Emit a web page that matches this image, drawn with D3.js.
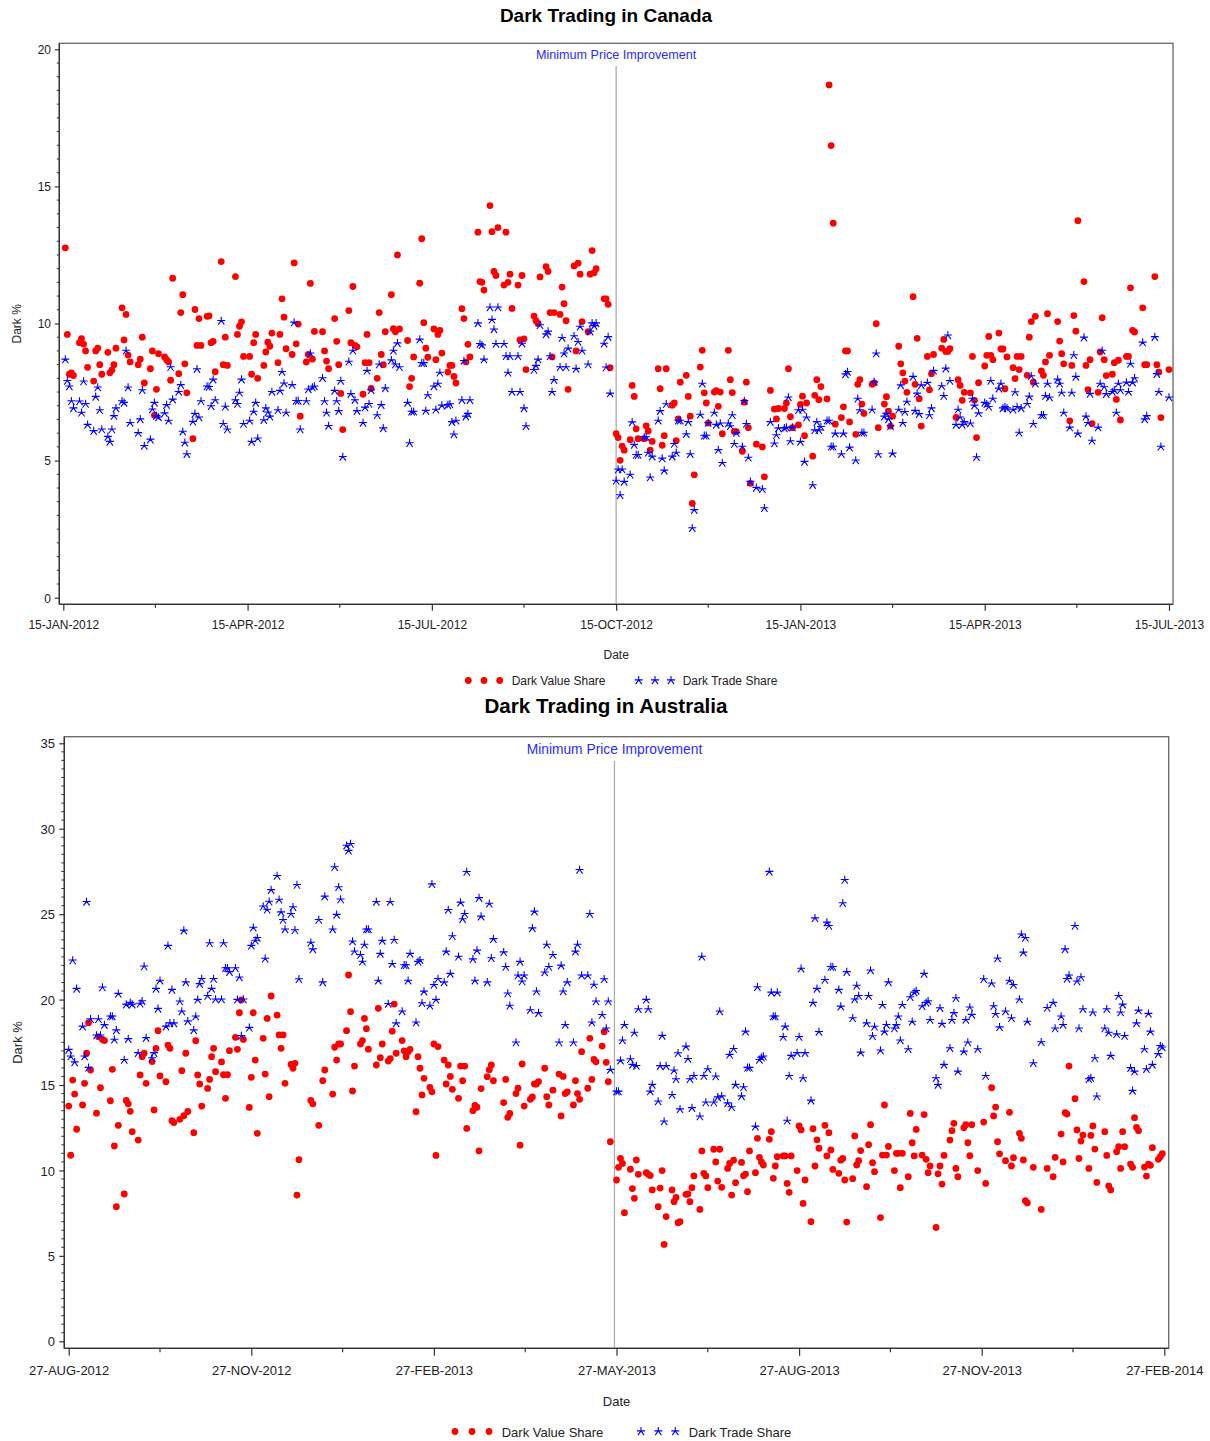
<!DOCTYPE html>
<html>
<head>
<meta charset="utf-8">
<script src="https://cdn.jsdelivr.net/npm/d3@7"></script>
<style>
  html, body { margin: 0; padding: 0; background: #fff; }
  svg { display: block; font-family: "Liberation Sans", Arial, Helvetica, sans-serif; }
</style>
</head>
<body>
<svg id="chart" width="1210" height="1441"></svg>
<script>
// ---------------------------------------------------------------------------
// Data: daily dark shares (%). One row per trading week, Monday..Friday,
// starting on the given Monday. null marks a market holiday / no observation.
// ---------------------------------------------------------------------------
const seriesNames = ["Dark Value Share", "Dark Trade Share"];
const ruleLabel = "Minimum Price Improvement";

const canadaStart = "2012-01-16";
const canadaRuleDate = "2012-10-15";
const canadaXTicks = ["2012-01-15", "2012-04-15", "2012-07-15", "2012-10-15", "2013-01-15", "2013-04-15", "2013-07-15"];
const canadaYTicks = [0, 5, 10, 15, 20];

const canadaValueShare = [
  12.76, 9.6, 8.15, 8.2, 8.1,
  9.3, 9.45, 9.25, 9.0, 8.4,
  7.9, 9.0, 9.1, 8.5, 8.15,
  8.95, 8.2, 8.3, 8.5, 9.1,
  10.57, 9.4, 10.33, 8.85, 8.6,
  null, 8.5, 8.7, 9.5, 7.83,
  8.35, 9.0, 6.65, 7.6, 8.9,
  8.78, 8.68, 8.6, 7.93, 11.65,
  8.17, 10.4, 11.05, 8.53, 7.47,
  5.8, 10.51, 9.2, 10.18, 9.2,
  10.26, 10.28, 9.3, 9.35, 8.24,
  12.26, 8.5, 9.5, 8.47, null,
  11.71, 9.6, 9.9, 10.06, 8.8,
  8.8, 8.15, 9.3, 9.6, 8.0,
  8.47, 8.96, 9.32, 9.17, 9.65,
  8.57, 9.6, 10.9, 10.23, 9.08,
  8.87, 12.21, 9.26, 9.98, 6.62,
  8.6, 8.87, 11.46, 8.7, 9.71,
  null, 9.7, 9.0, 8.63, 8.35,
  10.18, 9.35, 8.5, 7.45, 6.13,
  10.47, 9.3, 11.35, 9.2, 9.15,
  7.42, 8.57, 9.6, 8.57, 7.63,
  8.0, 10.4, 8.87, 8.5, 9.7,
  11.05, 9.81, 9.7, 12.5, 9.8,
  null, 9.38, 7.7, 8.0, 8.78,
  11.47, 13.09, 10.03, 9.1, 8.77,
  9.8, 8.68, 9.6, 9.75, 8.92,
  8.23, 8.47, 8.47, 8.07, 7.83,
  10.54, 10.18, 8.6, 9.24, 8.78,
  null, 13.33, 11.53, 11.5, 11.22,
  14.3, 13.35, 11.9, 11.75, 13.5,
  11.4, 13.33, 11.5, 11.8, 10.55,
  11.4, 9.4, 11.75, 9.44, 8.32,
  null, 10.27, 10.1, 10.0, 11.7,
  12.07, 11.9, 10.4, 8.78, 10.4,
  10.33, 11.33, 10.72, 10.1, 7.6,
  12.1, 9.0, 12.2, 11.8, 10.07,
  9.7, 11.8, 12.66, 11.85, 12.0,
  null, 10.9, 10.9, 10.7, 8.39,
  5.98, 5.84, 5.01, 5.53, 5.38,
  5.76, 7.74, 7.34, 6.16, 5.8,
  5.8, 6.27, 6.08, 5.38, 5.7,
  8.35, 7.62, 5.56, 5.91, 8.35,
  7.02, 7.1, 5.73, 6.52, 7.86,
  8.11, 7.34, 6.62, 3.44, 4.48,
  8.41, 9.02, 7.47, 7.1, 6.37,
  7.5, 7.55, 6.98, 7.5, 5.98,
  9.02, 7.95, 7.48, 6.06, 6.06,
  5.34, 7.13, 7.86, 6.2, 4.17,
  5.6, null, null, 5.5, 4.41,
  7.56, null, 6.88, 6.52, 6.9,
  6.9, 7.1, 8.35, 6.6, 6.2,
  6.3, 7.05, 7.35, 5.91, 7.1,
  5.16, 7.38, 7.95, 7.22, 7.7,
  7.25, 18.7, 16.49, 13.66, 6.33,
  6.57, 6.96, 9.0, 9.0, 6.41,
  5.96, 7.78, 7.95, 7.06, 6.72,
  null, 7.78, 7.83, 9.99, 6.2,
  7.06, 7.33, 6.8, 6.26, 6.62,
  9.17, 8.53, 8.2, 7.9, 7.49,
  10.98, 7.78, 9.46, 7.26, 6.26,
  8.8, 7.58, 8.17, 8.87, null,
  9.1, 9.42, 8.98, 8.98, 9.08,
  6.58, 7.95, 7.74, 7.2, 7.49,
  7.47, 8.8, 7.2, 5.84, 7.84,
  8.45, 8.84, 9.53, 8.84, 8.68,
  9.65, 9.07, 9.07, 7.62, 8.78,
  8.39, 7.99, 8.8, 8.32, 8.8,
  8.11, 9.5, 10.07, 7.86, 10.26,
  8.27, 8.11, 8.6, 10.36, 8.84,
  null, 10.07, 9.36, 8.9, 8.53,
  6.45, 8.47, 10.29, 9.72, 13.75,
  11.53, 8.47, 7.59, 8.68, 6.35,
  7.49, 8.96, 10.21, 8.68, 8.1,
  8.15, 8.57, 7.23, 8.66, 6.48,
  8.8, 8.8, 11.3, 9.75, 9.69,
  null, 10.57, 8.5, 8.5, null,
  11.71, 8.5, 8.23, 6.57, null,
  8.32
];

const canadaTradeShare = [
  8.68, 7.9, 7.7, 7.16, 6.9,
  7.15, 6.74, 7.88, 7.06, 6.3,
  6.07, 7.32, 7.66, 6.83, 6.13,
  5.86, 5.68, 6.13, 6.62, 6.9,
  7.16, 7.1, 9.0, 7.66, 6.37,
  null, 6.0, 6.5, 7.56, 5.53,
  5.76, 6.86, 7.1, 6.62, 6.57,
  6.72, 7.02, 6.45, 8.4, 7.22,
  7.5, 7.75, 6.05, 5.65, 5.23,
  6.41, 6.7, 8.33, 6.57, 7.16,
  7.7, 7.68, 6.98, 7.95, 7.2,
  10.09, 6.33, 6.96, 6.13, null,
  7.2, 7.06, 7.47, 7.95, 6.33,
  6.45, 5.68, 6.78, 7.1, 5.8,
  6.47, 6.9, 6.75, 6.6, 7.5,
  6.83, 7.54, 8.23, 7.81, 6.74,
  7.75, 10.03, 7.17, 7.17, 6.13,
  7.16, 7.59, 8.9, 7.66, 7.7,
  null, 8.0, 7.16, 6.74, 6.26,
  7.54, 7.16, 6.8, 7.9, 5.13,
  8.6, 7.42, 9.0, 7.2, 6.8,
  6.37, 6.93, 8.27, 7.06, 7.56,
  6.65, 8.5, 7.02, 6.17, 7.63,
  8.65, 9.0, 8.5, 9.27, 8.4,
  null, 7.1, 5.63, 6.78, 6.78,
  9.41, 8.55, 8.55, 6.81, 7.38,
  7.7, 6.85, 7.8, 8.2, 7.0,
  7.02, 7.05, 6.4, 5.95, 6.45,
  7.2, 8.63, 6.6, 6.7, 7.2,
  null, 10.0, 9.25, 9.2, 8.68,
  10.58, 10.13, 9.78, 9.25, 10.58,
  9.25, 8.8, 8.2, 8.8, 7.5,
  8.8, 7.5, 9.26, 6.9, 6.25,
  null, 8.3, 8.45, 8.68, 9.93,
  9.6, 9.7, 8.8, 7.5, 7.93,
  8.4, 9.47, 8.9, 8.4, 9.08,
  9.53, 8.34, 9.32, 9.88, 9.0,
  8.5, 9.7, 10.0, 9.9, 10.0,
  null, 9.26, 8.39, 9.5, 7.44,
  4.26, 4.67, 3.73, 4.67, 4.22,
  4.48, 6.39, 5.57, 5.2, 5.2,
  5.85, 5.85, 5.28, 4.38, 5.14,
  6.45, 6.8, 5.07, 4.63, 7.05,
  5.14, 5.6, 5.28, 6.45, 6.45,
  5.96, 6.4, 5.23, 2.53, 3.19,
  6.67, 7.8, 5.9, 5.9, 6.37,
  6.74, 6.3, 5.38, 6.35, 4.91,
  6.35, 6.25, 6.65, 5.6, 6.0,
  5.5, 7.17, 6.33, 5.1, 4.22,
  4.0, null, null, 3.95, 3.26,
  6.4, null, 5.62, 5.92, 6.17,
  6.17, 6.2, 7.3, 5.7, 6.2,
  6.83, 5.68, 6.85, 4.95, 6.57,
  4.1, 6.1, 6.4, 6.1, 6.22,
  6.45, 6.45, 5.5, 5.5, 5.98,
  5.23, 5.98, 8.14, 8.23, 5.47,
  5.0, 7.25, 6.83, 6.01, 6.01,
  null, 6.85, 7.86, 8.9, 5.23,
  6.6, 6.7, 6.5, 6.25, 5.25,
  6.85, 7.74, 6.37, 6.77, 7.14,
  8.05, 6.81, 7.44, 6.69, 7.74,
  7.83, 6.65, 6.9, 8.27, null,
  7.71, 7.35, 8.35, 9.56, 7.9,
  6.3, 6.85, 6.57, 6.3, 6.4,
  6.35, 7.25, 7.0, 5.12, 6.72,
  7.1, 7.05, 6.95, 7.9, 7.25,
  7.62, 7.8, 6.9, 6.95, 6.9,
  6.85, 7.49, 6.95, 6.01, 6.9,
  7.06, 7.33, 8.07, 6.33, 7.8,
  6.65, 6.65, 7.35, 7.8, 7.3,
  null, 7.95, 7.8, 7.47, 6.74,
  6.2, 7.47, 8.84, 8.05, 5.98,
  9.48, 6.6, 6.37, 7.43, 5.72,
  6.2, 7.8, 9.0, 7.67, 7.42,
  7.5, 7.56, 6.74, 7.8, 7.56,
  7.84, 7.5, 8.53, 7.84, 8.0,
  null, 9.3, 6.5, 6.62, null,
  9.5, 8.15, 7.5, 5.5, null,
  7.3
];

const australiaStart = "2012-08-27";
const australiaRuleDate = "2013-05-26";
const australiaXTicks = ["2012-08-27", "2012-11-27", "2013-02-27", "2013-05-27", "2013-08-27", "2013-11-27", "2014-02-27"];
const australiaYTicks = [0, 5, 10, 15, 20, 25, 30, 35];

const australiaValueShare = [
  13.77, 10.89, 15.29, 14.47, 12.41,
  13.83, 15.1, 16.86, 18.65, 15.88,
  13.35, 17.83, 14.84, 17.67, 17.6,
  14.08, 15.92, 11.43, 7.88, 12.64,
  8.62, 14.1, 13.9, 13.46, 12.27,
  11.78, 15.59, 16.66, 16.86, 15.1,
  16.37, 13.54, 17.15, 18.18, 15.53,
  15.19, 17.34, 17.15, 12.91, 12.8,
  12.99, 15.84, 13.2, 16.86, 13.45,
  12.21, 17.59, 15.59, 15.06, 13.77,
  14.8, 15.33, 16.66, 17.15, 15.78,
  16.35, 15.6, 14.22, 15.6, 17.01,
  17.79, 17.09, 19.23, 19.98, 17.67,
  13.69, 15.45, 19.23, 16.46, 12.17,
  17.73, 15.64, 18.9, 14.32, 20.21,
  19.09, 17.93, 17.15, 17.93, 15.1,
  16.2, 15.98, 16.27, 8.56, 10.63,
  null, null, null, 14.1, 13.9,
  12.64, null, 15.25, 15.88, null,
  14.47, 17.21, 16.46, 17.4, 17.4,
  18.18, 21.44, 19.29, 14.65, 16.11,
  17.4, 17.6, 18.9, 18.3, 17.1,
  null, 16.17, 19.49, 16.6, 17.4,
  16.4, 16.55, 18.15, 19.74, 16.86,
  17.6, 17.0, 16.66, 16.95, 17.09,
  13.44, 16.66, 15.98, 14.42, 15.39,
  14.86, 14.6, 17.4, 10.88, 17.25,
  16.46, 15.06, 16.17, 15.5, 14.75,
  14.22, 16.11, 15.25, 16.11, 12.46,
  13.5, 13.8, 13.7, 11.14, 14.79,
  15.49, 15.9, 16.17, 15.25, null,
  null, 13.97, 15.33, 13.11, 13.34,
  14.5, 14.81, 11.48, 16.23, 13.77,
  14.16, 14.3, 15.06, 15.06, 15.2,
  15.98, 14.32, 13.83, null, 14.7,
  15.64, 13.19, 15.5, 14.5, 14.6,
  13.83, 15.25, 14.5, 14.16, 16.95,
  14.81, 17.73, 15.33, 16.5, 16.36,
  17.28, 18.12, 16.33, 15.19, 11.68,
  9.44, 10.18, 10.7, 10.41, 7.53,
  10.07, 8.94, 8.37, 10.61, 9.77,
  null, 9.87, 9.77, 9.7, 8.86,
  7.88, 8.97, 9.99, 5.67, 7.3,
  8.86, 8.17, 8.42, 6.94, 7.0,
  8.6, 8.62, 8.17, 8.99, 9.68,
  7.72, 11.14, 9.83, 9.68, 8.99,
  11.24, 10.5, 9.38, 11.24, 9.01,
  10.12, 10.41, 8.56, 10.6, 9.28,
  10.47, 9.69, 9.79, 8.76, 11.14,
  9.87, 11.88, 10.77, 10.5, 10.32,
  11.82, 12.27, 9.54, 10.26, 10.8,
  10.85, 10.85, 9.24, 8.72, 10.85,
  9.99, 12.6, 12.37, 8.07, 9.44,
  7.0, 12.44, 10.26, 11.79, 11.3,
  12.64, 10.85, 12.21, 11.2, 10.06,
  9.83, 10.6, 10.7, 9.44, 6.98,
  9.52, 12.02, 10.32, 10.57, 11.16,
  9.05, 11.51, 12.68, 10.45, 9.93,
  7.24, 10.9, 13.83, 10.9, 11.4,
  9.99, 11.0, 11.0, 8.99, 11.0,
  9.63, 13.34, 11.62, 10.85, 12.4,
  10.9, 13.27, 10.65, 9.87, 10.26,
  6.66, 9.8, 10.26, 9.2, 10.88,
  11.78, 12.33, 12.76, 10.12, 9.63,
  12.5, 12.68, 11.62, 10.86, 12.68,
  9.99, null, null, 12.83, 9.24,
  14.84, 13.19, 13.71, 11.68, 10.97,
  10.57, null, 13.4, 10.26, 10.75,
  12.17, 11.88, 10.61, 8.23, 8.1,
  10.18, null, null, null, 7.72,
  10.12, null, null, 9.63, 10.77,
  12.13, 10.5, 13.38, 13.3, 16.11,
  14.2, 12.37, 10.7, 11.72, 12.07,
  10.12, 12.05, 12.6, 11.25, 9.3,
  null, 12.27, 10.88, 9.09, 8.86,
  11.1, 11.39, 10.12, 12.27, 11.39,
  10.37, 10.18, 13.09, 12.52, 12.33,
  10.2, 9.67, 10.37, 10.3, 11.33,
  10.65, 10.8, 10.99
];

const australiaTradeShare = [
  17.05, 16.66, 22.28, 16.32, 20.62,
  18.41, 16.66, 25.71, 16.0, 18.84,
  17.89, 18.84, 17.89, 20.7, 18.5,
  19.0, 19.0, 17.64, 18.19, 20.33,
  16.46, 19.7, 17.68, 19.8, 19.7,
  16.86, 19.75, 19.9, 21.93, 17.74,
  16.56, 16.86, 20.62, 19.45, 21.1,
  18.41, 23.14, 18.6, 20.56, 18.6,
  19.88, 19.3, 24.03, 21.0, 18.72,
  18.19, 19.0, 19.98, 20.9, 21.2,
  20.2, 23.29, 20.62, 21.2, 20.0,
  20.0, 23.29, 21.83, 21.83, 21.6,
  21.83, 19.98, 21.29, 17.86, 20.0,
  18.34, 23.14, 24.2, 23.44, 23.6,
  25.44, 22.38, 25.25, 25.72, 26.4,
  27.23, 25.84, 25.1, 24.65, 24.1,
  25.0, 25.4, 24.05, 26.7, 21.18,
  null, null, null, 23.32, 22.93,
  24.65, null, 21.0, 26.02, null,
  24.1, 27.74, 24.95, 26.57, 25.85,
  29.0, 28.7, 29.1, 23.39, 22.81,
  22.6, 22.21, 23.2, 24.1, 24.1,
  null, 25.71, 21.1, 22.67, 23.43,
  19.74, 25.71, 22.08, 23.48, 18.6,
  19.3, 22.0, 22.0, 21.1, 22.67,
  18.65, 22.2, 22.3, 19.78, 20.46,
  19.63, 26.74, 20.85, 19.98, 21.2,
  21.0, 22.8, 25.24, 21.5, 23.7,
  22.5, 25.67, 24.7, 25.0, 27.46,
  22.35, 21.1, 22.86, 25.93, 24.85,
  21.0, 25.6, 22.41, 23.53, null,
  null, 22.76, 21.9, 20.35, 19.63,
  17.48, 21.4, 22.2, 21.05, 21.4,
  19.37, 24.16, 25.14, 20.47, 19.2,
  21.58, 23.2, 21.9, null, 22.6,
  17.48, 21.98, 20.47, 18.51, 21.0,
  17.48, 22.8, 23.2, 27.58, 21.4,
  21.4, 25.0, 18.65, 20.86, 19.88,
  19.09, 21.18, 18.3, 19.88, 15.88,
  14.61, 14.61, 16.42, 17.6, 18.51,
  16.5, 16.17, 18.05, 16.11, 19.43,
  null, 19.98, 19.43, 14.61, 15.0,
  14.03, 16.1, 17.87, 12.86, 16.1,
  14.41, 15.84, 15.33, 16.85, 13.57,
  17.24, 16.52, 15.33, 13.64, 15.52,
  13.15, 22.5, 15.52, 13.97, 15.92,
  13.97, 15.49, 14.27, 19.3, 14.33,
  13.92, 16.76, 13.69, 17.1, 15.0,
  14.33, 14.86, 18.12, 16.0, 16.0,
  12.56, 20.72, 16.46, 16.6, 16.66,
  27.47, 20.4, 19.0, 19.0, 20.4,
  17.8, 18.41, 12.9, 15.52, 16.7,
  16.86, 17.8, 21.8, 15.39, 16.86,
  14.08, 19.8, 24.75, 20.62, 18.1,
  21.14, 24.5, 24.3, 21.9, 21.9,
  20.56, 19.58, 25.63, 26.99, 21.6,
  18.9, 20.0, 20.8, 20.2, 16.89,
  18.6, 20.2, 21.7, 17.85, 18.4,
  17.01, 19.68, 18.12, 18.51, 21.0,
  18.3, 18.5, 19.0, 17.6, 19.68,
  17.09, 20.13, 18.7, 20.4, 20.5,
  19.6, 21.5, 19.8, 19.9, 18.8,
  15.39, 15.0, 19.49, 18.57, 16.17,
  17.15, 18.8, 19.2, 20.07, 15.78,
  16.95, 18.8, 17.48, 19.53, 19.1,
  17.09, null, null, 21.18, 15.52,
  20.94, 19.6, 19.15, 22.4, 18.37,
  19.3, null, 21.1, 18.9, 20.85,
  20.0, 23.8, 22.74, 23.6, 18.7,
  16.27, null, null, null, 17.5,
  19.5, null, null, 19.8, 18.3,
  19.0, 18.51, 22.93, 21.2, 21.4,
  24.3, 21.05, 18.3, 21.3, 19.43,
  15.33, 15.4, 19.24, 16.56, 14.32,
  null, 18.3, 19.43, 18.05, 16.7,
  17.96, 20.2, 19.24, 19.7, 17.86,
  15.98, 14.65, 15.78, 18.6, 19.35,
  17.09, 15.92, 19.16, 18.12, 16.17,
  16.8, 17.28, 17.19
];

// ---------------------------------------------------------------------------
// Layout for the two stacked panels
// ---------------------------------------------------------------------------
const RED = "#ff0000", BLUE = "#0000ff";
const STAR = "M-4,-0.6H4M0,-4.4V-0.6M0,-0.6L-3.1,3.6M0,-0.6L3.1,3.6";

const panels = [
  {
    title: "Dark Trading in Canada",
    start: canadaStart, valueShare: canadaValueShare, tradeShare: canadaTradeShare,
    xTicks: canadaXTicks, yTicks: canadaYTicks, rule: canadaRuleDate,
    frame: { l: 59.3, r: 1173, t: 43.3, b: 604.3 },
    xTickSpan: [63.3, 1169], yPix: [597.7, 49.3],
    font: 12, titleFont: 19, titleY: 22, noteFont: 12.6, noteY: 59.3, ruleTop: 66,
    yLabelX: 20.5, yTickX: 51, xTickY: 629, dateY: 658.5,
    legendY: 685, legendMarkY: 680.5,
    legendDots: [468.3, 484, 499.7], legendText1: 511.7,
    legendStars: [638.7, 655, 671], legendText2: 682.7,
    majX: 6.5, minX: 3.5, majY: 4.5, minY: 2.5
  },
  {
    title: "Dark Trading in Australia",
    start: australiaStart, valueShare: australiaValueShare, tradeShare: australiaTradeShare,
    xTicks: australiaXTicks, yTicks: australiaYTicks, rule: australiaRuleDate,
    frame: { l: 64.3, r: 1168.7, t: 736.7, b: 1348.3 },
    xTickSpan: [68.7, 1164.3], yPix: [1341.3, 743.3],
    font: 13, titleFont: 20.6, titleY: 712.7, noteFont: 13.8, noteY: 754, ruleTop: 761,
    yLabelX: 21.5, yTickX: 55, xTickY: 1375, dateY: 1406,
    legendY: 1436.5, legendMarkY: 1431.5,
    legendDots: [455, 472, 489], legendText1: 501.7,
    legendStars: [641, 658.3, 675.3], legendText2: 688.7,
    majX: 7.5, minX: 4, majY: 5, minY: 3
  }
];

const svg = d3.select("#chart");
const parseDay = d3.utcParse("%Y-%m-%d");
const fmtTick = d3.utcFormat("%d-%b-%Y");

// Weekdays from the first Monday, one per stored value
function tradingDays(start, n) {
  const out = [];
  let d = parseDay(start);
  while (out.length < n) {
    const wd = d.getUTCDay();
    if (wd > 0 && wd < 6) out.push(d);
    d = d3.utcDay.offset(d, 1);
  }
  return out;
}

function drawPanel(p) {
  const g = svg.append("g");
  const f = p.frame;

  // Quarterly axis ticks are evenly spaced across the plot
  const tickDates = p.xTicks.map(parseDay);
  const step = (p.xTickSpan[1] - p.xTickSpan[0]) / (tickDates.length - 1);
  const x = d3.scaleUtc()
    .domain(tickDates)
    .range(tickDates.map((_, i) => p.xTickSpan[0] + i * step));
  const y = d3.scaleLinear()
    .domain([p.yTicks[0], p.yTicks[p.yTicks.length - 1]])
    .range(p.yPix);

  // Title
  g.append("text")
    .attr("x", 606).attr("y", p.titleY)
    .attr("text-anchor", "middle")
    .attr("font-size", p.titleFont).attr("font-weight", "bold")
    .attr("fill", "#000")
    .text(p.title);

  // Plot frame
  g.append("rect")
    .attr("x", f.l).attr("y", f.t)
    .attr("width", f.r - f.l).attr("height", f.b - f.t)
    .attr("fill", "none").attr("stroke", "#666").attr("stroke-width", 1.3);

  // Regime change rule
  const rx = x(parseDay(p.rule));
  g.append("line")
    .attr("x1", rx).attr("x2", rx)
    .attr("y1", p.ruleTop).attr("y2", f.b)
    .attr("stroke", "#a8a8a8").attr("stroke-width", 1.2);
  g.append("text")
    .attr("x", rx).attr("y", p.noteY)
    .attr("text-anchor", "middle")
    .attr("font-size", p.noteFont).attr("fill", "#2b2bff")
    .text(ruleLabel);

  // X axis
  const xAxis = g.append("g")
    .attr("transform", `translate(0,${f.b})`)
    .call(d3.axisBottom(x)
      .tickValues(tickDates)
      .tickSize(p.majX)
      .tickFormat(d => fmtTick(d).toUpperCase()));
  xAxis.select(".domain").attr("stroke", "#333").attr("stroke-width", 1.3)
    .attr("d", `M${f.l},0H${f.r}`);
  xAxis.selectAll(".tick line").attr("stroke", "#333").attr("stroke-width", 1.2);
  xAxis.selectAll(".tick text")
    .attr("y", p.xTickY - f.b).attr("dy", null)
    .attr("font-size", p.font).attr("fill", "#222")
    .attr("font-family", "'Liberation Sans', Arial, sans-serif");
  // minor ticks halfway between quarters
  const minorX = d3.pairs(tickDates).map(([a, b]) => (x(a) + x(b)) / 2);
  xAxis.selectAll(".minor").data(minorX).join("line")
    .attr("class", "minor")
    .attr("x1", d => d).attr("x2", d => d)
    .attr("y1", 0).attr("y2", p.minX)
    .attr("stroke", "#333").attr("stroke-width", 1.2);

  // Y axis
  const yAxis = g.append("g")
    .attr("transform", `translate(${f.l},0)`)
    .call(d3.axisLeft(y).tickValues(p.yTicks).tickSize(p.majY));
  yAxis.select(".domain").attr("stroke", "#333").attr("stroke-width", 1.3)
    .attr("d", `M0,${f.t}V${f.b}`);
  yAxis.selectAll(".tick line").attr("stroke", "#333").attr("stroke-width", 1.2);
  yAxis.selectAll(".tick text")
    .attr("x", p.yTickX - f.l).attr("dy", "0.36em")
    .attr("font-size", p.font).attr("fill", "#222")
    .attr("font-family", "'Liberation Sans', Arial, sans-serif");
  const yMax = p.yTicks[p.yTicks.length - 1];
  const minorY = d3.range(p.yTicks[0], yMax + 0.001, 0.5).filter(v => v % 5 !== 0);
  yAxis.selectAll(".minor").data(minorY).join("line")
    .attr("class", "minor")
    .attr("x1", 0).attr("x2", -p.minY)
    .attr("y1", d => y(d)).attr("y2", d => y(d))
    .attr("stroke", "#333").attr("stroke-width", 1);

  // Axis titles
  g.append("text")
    .attr("transform", `translate(${p.yLabelX},${(f.t + f.b) / 2}) rotate(-90)`)
    .attr("text-anchor", "middle")
    .attr("font-size", p.font).attr("fill", "#222")
    .text("Dark %");
  g.append("text")
    .attr("x", (f.l + f.r) / 2).attr("y", p.dateY)
    .attr("text-anchor", "middle")
    .attr("font-size", p.font).attr("fill", "#222")
    .text("Date");

  // Points
  const vDays = tradingDays(p.start, p.valueShare.length);
  const tDays = tradingDays(p.start, p.tradeShare.length);
  const valuePts = p.valueShare.map((v, i) => ({ d: vDays[i], v })).filter(o => o.v != null);
  const tradePts = p.tradeShare.map((v, i) => ({ d: tDays[i], v })).filter(o => o.v != null);

  g.append("g").selectAll("circle").data(valuePts).join("circle")
    .attr("cx", o => x(o.d)).attr("cy", o => y(o.v))
    .attr("r", 3.4).attr("fill", RED);

  g.append("g").selectAll("path").data(tradePts).join("path")
    .attr("d", STAR)
    .attr("transform", o => `translate(${x(o.d)},${y(o.v)})`)
    .attr("fill", "none").attr("stroke", BLUE).attr("stroke-width", 1.1);

  // Legend
  const lg = g.append("g");
  lg.selectAll("circle").data(p.legendDots).join("circle")
    .attr("cx", d => d).attr("cy", p.legendMarkY)
    .attr("r", 3.4).attr("fill", RED);
  lg.append("text")
    .attr("x", p.legendText1).attr("y", p.legendY)
    .attr("font-size", p.font).attr("fill", "#222")
    .text(seriesNames[0]);
  lg.selectAll("path").data(p.legendStars).join("path")
    .attr("d", STAR)
    .attr("transform", d => `translate(${d},${p.legendMarkY})`)
    .attr("fill", "none").attr("stroke", BLUE).attr("stroke-width", 1.1);
  lg.append("text")
    .attr("x", p.legendText2).attr("y", p.legendY)
    .attr("font-size", p.font).attr("fill", "#222")
    .text(seriesNames[1]);
}

panels.forEach(drawPanel);
</script>
</body>
</html>
